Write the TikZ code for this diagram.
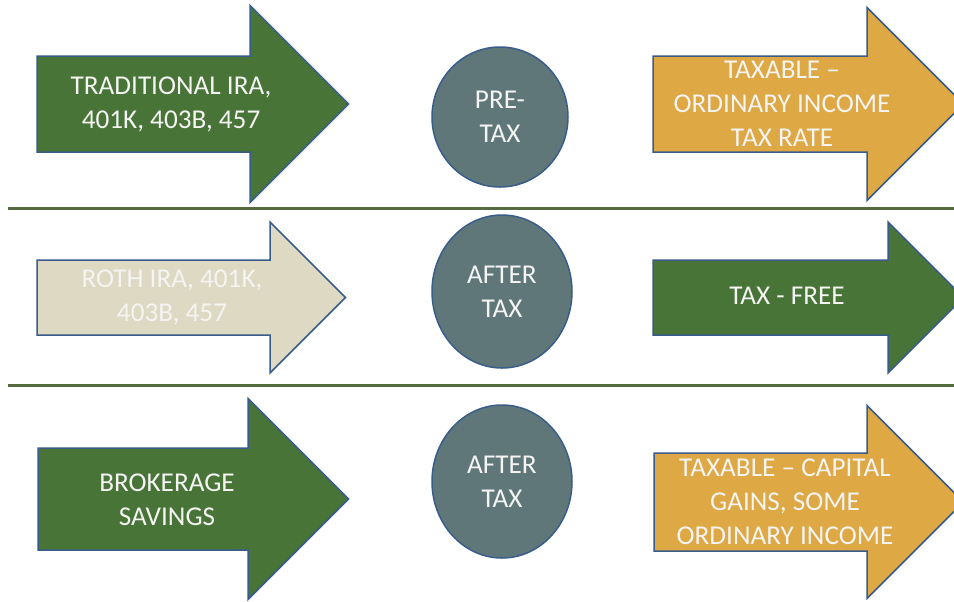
\documentclass[tikz,border=0pt]{standalone}
\usepackage{fontspec}
\setmainfont{Carlito}
\usetikzlibrary{shapes.geometric}

\definecolor{leafgreen}{RGB}{72,116,56}
\definecolor{tan}{RGB}{221,217,195}
\definecolor{gold}{RGB}{222,168,68}
\definecolor{slate}{RGB}{96,119,122}
\definecolor{rim}{RGB}{56,93,138}
\definecolor{rule}{RGB}{85,107,63}
\definecolor{paper}{RGB}{244,244,242}

% fat right arrow: style, x0, x1, ymid, body half, head half
\newcommand{\fatarrow}[6]{%
  \filldraw[#1] (#2,#4-#5) -- (#3,#4-#5) -- (#3,#4-#6) -- ({#3+#6},#4)
    -- (#3,#4+#6) -- (#3,#4+#5) -- (#2,#4+#5) -- cycle;}

\tikzset{
  shaft/.style={draw=rim, line width=0.75pt, line join=miter},
  lbl/.style={text=paper, align=center, inner sep=0pt,
    font=\fontsize{13.6}{17}\selectfont},
  pill/.style={ellipse, draw=rim, line width=0.75pt, fill=slate, text=paper,
    align=center, inner sep=0pt, font=\fontsize{13.6}{17}\selectfont}
}

\begin{document}
\begin{tikzpicture}[x=0.5pt,y=-0.5pt]

  \clip (0,0) rectangle (954,601);
  \fill[white] (0,0) rectangle (954,601);

  % separators
  \coordinate (r1a) at (8,208);   \coordinate (r1b) at (954,208);
  \coordinate (r2a) at (8,385);   \coordinate (r2b) at (954,385);
  \draw[rule, line width=1.5pt] (r1a) -- (r1b);
  \draw[rule, line width=1.5pt] (r2a) -- (r2b);

  % left arrows
  \fatarrow{shaft, fill=leafgreen}{37}{250}{104}{48}{98.5}
  \fatarrow{shaft, fill=tan}{37}{270}{297.5}{37.5}{75.5}
  \fatarrow{shaft, fill=leafgreen}{38}{248}{499}{51}{100.5}

  % right arrows
  \fatarrow{shaft, fill=gold}{653}{867}{104}{48}{96.5}
  \fatarrow{shaft, fill=leafgreen}{653}{888}{297.5}{37.5}{75.5}
  \fatarrow{shaft, fill=gold}{654}{867}{502}{49}{96.5}

  \begin{scope}[every node/.style={lbl}]
    \node (trad)     at (171,104) {TRADITIONAL IRA,\\401K, 403B, 457};
    \node (roth)     at (172,297) {ROTH IRA, 401K,\\403B, 457};
    \node (broker)   at (167,500) {BROKERAGE\\SAVINGS};
    \node (ordinary) at (782,104) {TAXABLE --\\ORDINARY INCOME\\TAX RATE};
    \node (taxfree)  at (787,296) {TAX - FREE};
    \node (capgains) at (785,502) {TAXABLE -- CAPITAL\\GAINS, SOME\\ORDINARY INCOME};
  \end{scope}

  \node[pill, minimum width=68pt, minimum height=70pt]   (pretax) at (500,117) {PRE-\\TAX};
  \node[pill, minimum width=70pt, minimum height=76.5pt] (after1) at (502,291.5) {AFTER\\TAX};
  \node[pill, minimum width=70pt, minimum height=76.5pt] (after2) at (502,481.5) {AFTER\\TAX};

\end{tikzpicture}
\end{document}
